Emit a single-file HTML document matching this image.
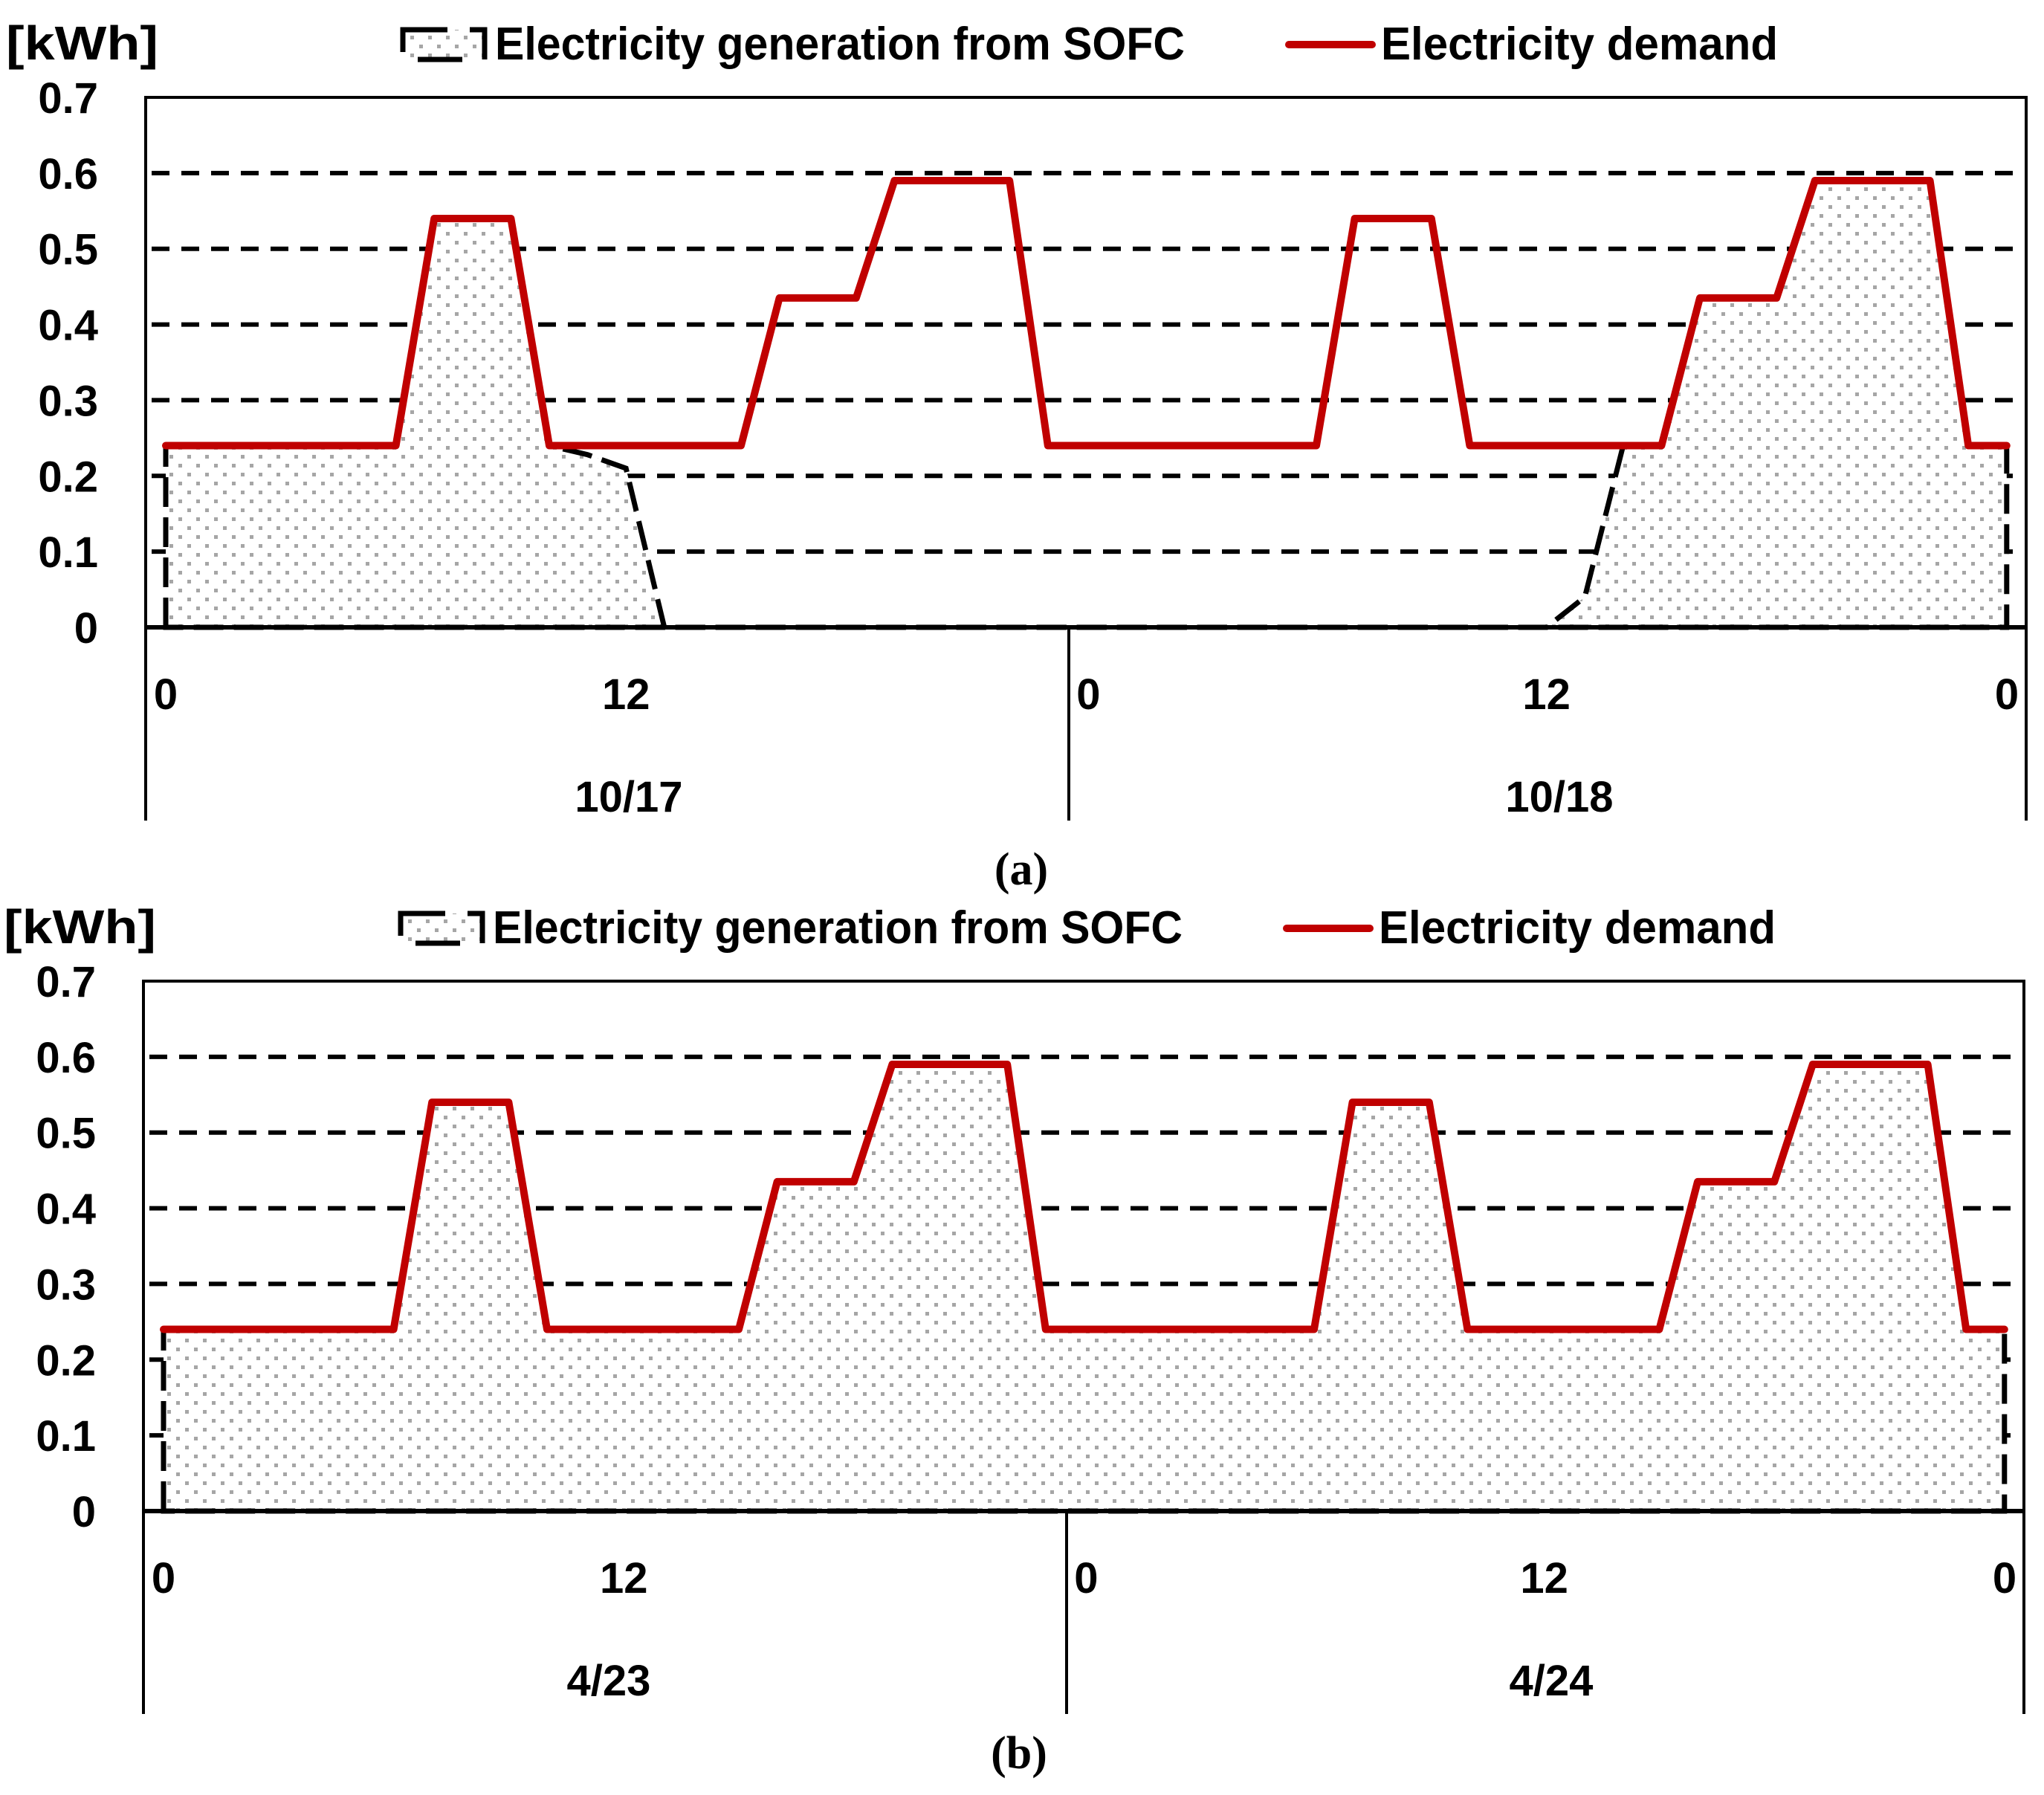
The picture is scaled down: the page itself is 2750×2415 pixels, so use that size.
<!DOCTYPE html>
<html><head><meta charset="utf-8"><style>
html,body{margin:0;padding:0;background:#fff;}
svg{display:block;}
text{font-family:"Liberation Sans",sans-serif;font-weight:bold;fill:#000;}
</style></head><body>
<svg id="chart" width="2750" height="2415" viewBox="0 0 2750 2415" xmlns="http://www.w3.org/2000/svg">
<defs>
<pattern id="dots" width="24" height="24" patternUnits="userSpaceOnUse">
<rect width="24" height="24" fill="#fff"/>
<rect x="0" y="0" width="5" height="5" fill="#a6a6a6"/>
<rect x="12" y="12" width="5" height="5" fill="#a6a6a6"/>
</pattern>
</defs>
</svg>
<script>
// ---- data ----
const yTicks = [0, 0.1, 0.2, 0.3, 0.4, 0.5, 0.6, 0.7];
const yTickLabels = ["0", "0.1", "0.2", "0.3", "0.4", "0.5", "0.6", "0.7"];
const xTickHours = [0, 12, 24, 36, 48];
const xTickLabels = ["0", "12", "0", "12", "0"];
const datesA = ["10/17", "10/18"];
const datesB = ["4/23", "4/24"];
const demand = [0.24,0.24,0.24,0.24,0.24,0.24,0.24,0.54,0.54,0.54,0.24,0.24,0.24,0.24,0.24,0.24,0.435,0.435,0.435,0.59,0.59,0.59,0.59,0.24,
                0.24,0.24,0.24,0.24,0.24,0.24,0.24,0.54,0.54,0.54,0.24,0.24,0.24,0.24,0.24,0.24,0.435,0.435,0.435,0.59,0.59,0.59,0.59,0.24];
const sofcA = [0.24,0.24,0.24,0.24,0.24,0.24,0.24,0.54,0.54,0.54,0.24,0.228,0.21,0,0,0,0,0,0,0,0,0,0,0,
               0,0,0,0,0,0,0,0,0,0,0,0,0,0.04,0.24,0.24,0.435,0.435,0.435,0.59,0.59,0.59,0.59,0.24];
const sofcB = demand.slice();
const lastHour = 48;

const NS = "http://www.w3.org/2000/svg";
const svg = document.getElementById('chart');
function mk(tag, attrs, parent){const e=document.createElementNS(NS,tag);for(const k in attrs)e.setAttribute(k,attrs[k]);(parent||svg).appendChild(e);return e;}

function drawPanel(cfg){
  const g = mk('g',{transform:`translate(${cfg.dx},${cfg.dy})`});
  
  
  const L=196, R=2726, T=131, Y0=844, X0=223, HS=51.6;
  const y = v => Y0 - v/0.7*(Y0-T);
  const x = h => X0 + h*HS;
  yTicks.forEach((v,i)=>{
    if(v>0 && v<0.7){
      const l=mk('line',{x1:L+8,x2:R,y1:y(v),y2:y(v),stroke:'#000','stroke-width':6,'stroke-dasharray':'24 16'},g);
      
      
    }
    const t=mk('text',{x:132,y:y(v)+21,'text-anchor':'end','font-size':58},g);
    t.textContent=yTickLabels[i];
    
    
  });
  const pts = cfg.sofc.map((v,i)=>[x(i),y(v)]);
  pts.push([x(lastHour),y(cfg.sofc[cfg.sofc.length-1])]);
  let d = `M${x(0)},${y(0)} ` + pts.map(p=>`L${p[0]},${p[1]}`).join(' ') + ` L${x(lastHour)},${y(0)} Z`;
  const area=mk('path',{d:d,fill:'url(#dots)',stroke:'none'},g);
  
  
  const outline=mk('path',{d:d,fill:'none',stroke:'#000','stroke-width':7,'stroke-dasharray':'40 14'},g);
  
  
  const fr=mk('path',{d:`M${L},${cfg.bottom} L${L},${T} L${R},${T} L${R},${cfg.bottom}`,fill:'none',stroke:'#000','stroke-width':4},g);
  
  
  const xa=mk('line',{x1:L,x2:R,y1:Y0,y2:Y0,stroke:'#000','stroke-width':6},g);
  
  
  const sep=mk('line',{x1:1438,x2:1438,y1:Y0,y2:cfg.bottom,stroke:'#000','stroke-width':4},g);
  
  
  const dp = demand.map((v,i)=>`${x(i)},${y(v)}`);
  dp.push(`${x(lastHour)},${y(demand[demand.length-1])}`);
  const dl=mk('polyline',{points:dp.join(' '),fill:'none',stroke:'#c00000','stroke-width':10,'stroke-linejoin':'round','stroke-linecap':'round'},g);
  
  
  xTickHours.forEach((h,i)=>{
    let xx = x(h);
    if(i===2){xx=x(h)+3;}
    if(i===4){xx=2700;}
    const t=mk('text',{x:xx,y:954,'text-anchor':'middle','font-size':58},g);
    t.textContent=xTickLabels[i];
    
    
  });
  cfg.dates.forEach((s,i)=>{
    const t=mk('text',{x:cfg.dateX[i],y:cfg.dateY,'text-anchor':'middle','font-size':58},g);
    t.textContent=s;
    
    
  });
  const u=mk('text',{x:8,y:80,'font-size':64,textLength:205,lengthAdjust:'spacingAndGlyphs'},g);
  u.textContent='[kWh]';
  
  
  const lb=mk('rect',{x:542,y:40,width:110,height:40,fill:'url(#dots)',stroke:'#000','stroke-width':7,'stroke-dasharray':'60 30'},g);
  
  
  const lt=mk('text',{x:666,y:80,'font-size':62,textLength:928,lengthAdjust:'spacingAndGlyphs'},g);
  lt.textContent='Electricity generation from SOFC';
  
  
  const ll=mk('line',{x1:1734,x2:1846,y1:60,y2:60,stroke:'#c00000','stroke-width':10,'stroke-linecap':'round'},g);
  
  
  const lt2=mk('text',{x:1858,y:80,'font-size':62,textLength:534,lengthAdjust:'spacingAndGlyphs'},g);
  lt2.textContent='Electricity demand';
  
  
  const cap=mk('text',{x:1374,y:cfg.capY,'text-anchor':'middle','font-size':62,style:'font-family:"Liberation Serif",serif'},g);
  cap.textContent=cfg.caption;
  
  
}
drawPanel({name:'panel-a',dx:0,dy:0,sofc:sofcA,dates:datesA,dateX:[846,2098],dateY:1092,bottom:1104,caption:'(a)',capY:1190});
drawPanel({name:'panel-b',dx:-3,dy:1189,sofc:sofcB,dates:datesB,dateX:[822,2090],dateY:1092,bottom:1117,caption:'(b)',capY:1190});
</script>
</body></html>
